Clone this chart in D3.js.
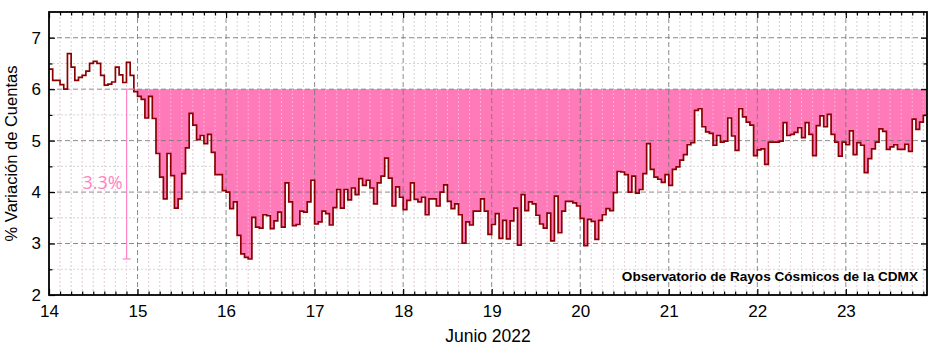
<!DOCTYPE html>
<html>
<head>
<meta charset="utf-8">
<script src="https://cdn.jsdelivr.net/npm/d3@7"></script>
<style>
  body { margin: 0; background: #fff; }
  svg { display: block; font-family: "Liberation Sans", Arial, sans-serif; }
</style>
</head>
<body>
<div id="chart"></div>
<script>
// hourly % variation, one array per day of June 2022 (starting 00:00)
const june14 = [6.39,6.17,6.17,6.09,6.00,6.69,6.43,6.17,6.23,6.27,6.35,6.50,6.54,6.50,6.27,6.08,6.10,6.14,6.43,6.28,6.13,6.52,6.27,5.95];
const june15 = [5.86,5.80,5.44,5.86,5.43,4.75,4.29,3.87,4.75,4.32,3.69,3.87,4.36,4.86,5.53,5.30,5.02,5.10,4.94,5.12,4.77,4.34,4.34,4.03];
const june16 = [4.00,3.68,3.81,3.16,2.80,2.73,2.70,3.51,3.32,3.30,3.56,3.54,3.29,3.44,3.61,3.32,4.18,3.81,3.35,3.37,3.63,3.61,3.81,4.23];
const june17 = [3.38,3.42,3.63,3.58,3.36,3.70,4.05,3.69,4.05,3.85,4.08,3.95,4.26,4.13,4.23,4.08,3.77,4.18,4.31,4.66,4.27,3.73,4.10,3.90];
const june18 = [3.66,3.84,4.18,3.86,3.81,3.90,3.56,3.87,3.87,3.73,4.00,4.14,3.82,3.68,3.77,3.56,3.01,3.42,3.36,3.63,3.63,3.87,3.63,3.18];
const june19 = [3.37,3.58,3.10,3.45,3.09,3.44,3.69,2.97,3.95,3.64,3.81,3.77,3.55,3.38,3.30,3.59,3.05,3.92,3.21,3.63,3.82,3.82,3.79,3.73];
const june20 = [3.49,2.96,3.47,3.43,3.08,3.45,3.56,3.68,3.64,3.99,4.40,4.39,4.34,4.00,4.31,3.98,4.05,4.36,4.94,4.44,4.29,4.25,4.19,4.34];
const june21 = [4.13,4.44,4.49,4.62,4.73,4.92,4.96,5.59,5.62,5.27,5.17,5.14,4.91,5.10,4.97,4.99,5.44,5.09,4.81,5.62,5.46,5.36,5.30,4.71];
const june22 = [4.82,4.84,4.54,4.97,4.97,4.97,4.99,5.35,5.10,5.12,5.16,5.25,5.06,5.35,5.12,4.71,5.29,5.48,5.27,5.51,5.12,4.97,4.70,4.97];
const june23 = [4.92,5.19,4.73,4.96,4.91,4.38,4.65,4.84,4.97,5.23,5.18,4.83,4.88,4.92,4.83,4.83,4.93,4.79,5.42,5.22,5.36,5.49];

const days = [14, 15, 16, 17, 18, 19, 20, 21, 22, 23];
const yTicks = [2, 3, 4, 5, 6, 7];
const baseline = 6;           // reference level for the shaded drop
const dropAt = 14.877;        // where the 3.3% bracket sits
const dropMin = 2.7;
const dropLabel = "3.3%";
const xTitle = "Junio 2022";
const yTitle = "% Variación de Cuentas";
const credit = "Observatorio de Rayos Cósmicos de la CDMX";

const W = 939, H = 347;
const margin = { top: 12, right: 12, bottom: 52, left: 49 };

const values = [june14, june15, june16, june17, june18, june19, june20, june21, june22, june23].flat();
let data = values.map((v, i) => ({ t: 14 + i / 24, v: v }));
let tEnd = 14 + values.length / 24;
data.push({ t: tEnd, v: values[values.length - 1] });

let x = d3.scaleLinear().domain([14, tEnd]).range([margin.left, W - margin.right]);
let y = d3.scaleLinear().domain([2, 7.5]).range([H - margin.bottom, margin.top]);

let svg = d3.select("#chart").append("svg").attr("width", W).attr("height", H);

// minor grid
let minorX = d3.range(14, tEnd, 0.125).filter((d) => Math.abs(d - Math.round(d)) > 1e-6);
let minorY = d3.range(2.5, 7.5, 1);
let grid = svg.append("g");
grid.selectAll(".mx").data(minorX).enter().append("line")
  .attr("x1", (d) => x(d)).attr("x2", (d) => x(d))
  .attr("y1", y(2)).attr("y2", y(7.5))
  .attr("stroke", "#d4d4d4").attr("stroke-dasharray", "2,2").attr("stroke-width", 1);
grid.selectAll(".my").data(minorY).enter().append("line")
  .attr("x1", x(14)).attr("x2", x(tEnd))
  .attr("y1", (d) => y(d)).attr("y2", (d) => y(d))
  .attr("stroke", "#d4d4d4").attr("stroke-dasharray", "2,2").attr("stroke-width", 1);

// shaded drop below the reference level
let area = d3.area()
  .curve(d3.curveStepAfter)
  .x((d) => x(d.t))
  .y0(y(baseline))
  .y1((d) => y(Math.min(d.v, baseline)));
svg.append("path").datum(data).attr("d", area).attr("fill", "#ff7ab8");

// major grid on top of the fill
grid = svg.append("g");
grid.selectAll(".gx").data(days.slice(1)).enter().append("line")
  .attr("x1", (d) => x(d)).attr("x2", (d) => x(d))
  .attr("y1", y(2)).attr("y2", y(7.5))
  .attr("stroke", "#777").attr("stroke-opacity", 0.85).attr("stroke-dasharray", "5,3").attr("stroke-width", 1);
grid.selectAll(".gy").data(yTicks.slice(1)).enter().append("line")
  .attr("x1", x(14)).attr("x2", x(tEnd))
  .attr("y1", (d) => y(d)).attr("y2", (d) => y(d))
  .attr("stroke", "#777").attr("stroke-opacity", 0.85).attr("stroke-dasharray", "5,3").attr("stroke-width", 1);
svg.append("g").selectAll("line").data(minorX).enter().append("line")
  .attr("x1", (d) => x(d)).attr("x2", (d) => x(d))
  .attr("y1", y(2)).attr("y2", y(baseline))
  .attr("stroke", "#ffd0e6").attr("stroke-opacity", 0.6).attr("stroke-dasharray", "2,2");

// step line
let line = d3.line().curve(d3.curveStepAfter).x((d) => x(d.t)).y((d) => y(d.v));
svg.append("path").datum(data).attr("d", line)
  .attr("fill", "none").attr("stroke", "#8b0000").attr("stroke-width", 1.7);

// 3.3% bracket
let pink = "#ff84c2";
svg.append("line").attr("x1", x(dropAt)).attr("x2", x(dropAt))
  .attr("y1", y(baseline)).attr("y2", y(dropMin)).attr("stroke", pink).attr("stroke-width", 1.2);
svg.append("line").attr("x1", x(dropAt) - 4).attr("x2", x(dropAt) + 4)
  .attr("y1", y(dropMin)).attr("y2", y(dropMin)).attr("stroke", pink).attr("stroke-width", 1.2);
svg.append("line").attr("x1", x(dropAt) - 1).attr("x2", x(14.96))
  .attr("y1", y(baseline)).attr("y2", y(baseline)).attr("stroke", pink).attr("stroke-width", 1.2);
svg.append("text").attr("x", x(dropAt) - 4).attr("y", 189)
  .attr("text-anchor", "end").attr("fill", pink)
  .style("font-family", "'Open Sans', sans-serif").style("font-size", "18px")
  .text(dropLabel);

// axes with inward ticks on all sides
function styleAxis(g) {
  g.select(".domain").remove();
  g.selectAll("line").attr("stroke", "#000").attr("stroke-width", 1.2);
  g.selectAll("text").style("font-size", "17px").attr("fill", "#000");
}

svg.append("g").attr("transform", "translate(0," + y(2) + ")")
  .call(d3.axisBottom(x).tickValues(days).tickFormat(d3.format("d")).tickSize(-6).tickPadding(10))
  .call(styleAxis);
svg.append("g").attr("transform", "translate(0," + y(2) + ")")
  .call(d3.axisBottom(x).tickValues(minorX).tickFormat("").tickSize(-3.5))
  .call(styleAxis);
svg.append("g").attr("transform", "translate(0," + y(7.5) + ")")
  .call(d3.axisTop(x).tickValues(days).tickFormat("").tickSize(-6))
  .call(styleAxis);
svg.append("g").attr("transform", "translate(0," + y(7.5) + ")")
  .call(d3.axisTop(x).tickValues(minorX).tickFormat("").tickSize(-3.5))
  .call(styleAxis);
svg.append("g").attr("transform", "translate(" + x(14) + ",0)")
  .call(d3.axisLeft(y).tickValues(yTicks).tickFormat(d3.format("d")).tickSize(-6).tickPadding(8))
  .call(styleAxis);
svg.append("g").attr("transform", "translate(" + x(14) + ",0)")
  .call(d3.axisLeft(y).tickValues(minorY).tickFormat("").tickSize(-3.5))
  .call(styleAxis);
svg.append("g").attr("transform", "translate(" + x(tEnd) + ",0)")
  .call(d3.axisRight(y).tickValues(yTicks).tickFormat("").tickSize(-6))
  .call(styleAxis);
svg.append("g").attr("transform", "translate(" + x(tEnd) + ",0)")
  .call(d3.axisRight(y).tickValues(minorY).tickFormat("").tickSize(-3.5))
  .call(styleAxis);

// frame
svg.append("rect")
  .attr("x", x(14)).attr("y", y(7.5))
  .attr("width", x(tEnd) - x(14)).attr("height", y(2) - y(7.5))
  .attr("fill", "none").attr("stroke", "#000").attr("stroke-width", 1.8);

// titles
svg.append("text").attr("x", (x(14) + x(tEnd)) / 2).attr("y", 342)
  .attr("text-anchor", "middle").style("font-size", "17.5px").text(xTitle);
svg.append("text")
  .attr("transform", "translate(17," + (y(2) + y(7.5)) / 2 + ") rotate(-90)")
  .attr("text-anchor", "middle").style("font-size", "16.5px").text(yTitle);
svg.append("text").attr("x", 918).attr("y", 281)
  .attr("text-anchor", "end").style("font-size", "13.6px").style("font-weight", "bold")
  .text(credit);
</script>
</body>
</html>
